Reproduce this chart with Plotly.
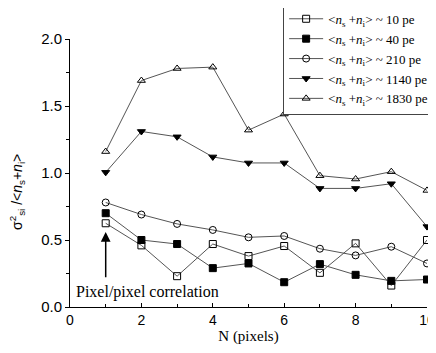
import plotly.graph_objects as go

N = [1, 2, 3, 4, 5, 6, 7, 8, 9, 10]
s10 = [0.625, 0.46, 0.23, 0.47, 0.38, 0.455, 0.255, 0.475, 0.16, 0.50]
s40 = [0.70, 0.50, 0.47, 0.29, 0.325, 0.185, 0.32, 0.24, 0.195, 0.205]
s210 = [0.78, 0.69, 0.62, 0.575, 0.52, 0.53, 0.435, 0.385, 0.45, 0.325]
s1140 = [1.005, 1.31, 1.27, 1.12, 1.075, 1.075, 0.885, 0.885, 0.92, 0.60]
s1830 = [1.16, 1.69, 1.78, 1.79, 1.32, 1.44, 0.98, 0.955, 1.01, 0.87]
labels = ["10", "40", "210", "1140", "1830"]
symbols = ["square-open", "square", "circle-open", "triangle-down", "triangle-up-open"]
series = [s10, s40, s210, s1140, s1830]

SERIF = "Times New Roman, Liberation Serif, serif"
SANS = "Arial, Liberation Sans, sans-serif"

fig = go.Figure()
for lab, sym, ys in zip(labels, symbols, series):
    fig.add_trace(go.Scatter(
        x=N, y=ys, mode="lines+markers",
        name="&lt;<i>n</i><sub>s</sub> +<i>n</i><sub>i</sub>&gt; ~ " + lab + " pe",
        line=dict(color="#555555", width=1),
        marker=dict(symbol=sym, size=7, color="black", line=dict(color="black", width=1)),
        cliponaxis=False,
    ))

fig.add_annotation(x=1, y=0.56, ax=1, ay=0.21, xref="x", yref="y", axref="x", ayref="y",
                   showarrow=True, arrowhead=2, arrowsize=1.3, arrowwidth=1.5, arrowcolor="black", text="")
fig.add_annotation(x=0.1, y=0.11, xref="x", yref="y", xanchor="left", yanchor="middle",
                   showarrow=False, text="Pixel/pixel correlation",
                   font=dict(family=SERIF, size=16, color="black"))
# y-axis title (placed as a rotated annotation to match the reference's lower position)
fig.add_annotation(x=-0.148, y=0.43, xref="paper", yref="paper", xanchor="center", yanchor="middle",
                   showarrow=False, textangle=-90,
                   text="σ<sup>2</sup><sub>si</sub> /&lt;<i>n</i><sub>s</sub>+<i>n</i><sub>i</sub>&gt;",
                   font=dict(family=SANS, size=14, color="black"))

# page body adds an 8px offset; margins compensate so the plot area lands at x 70-427, y 39-307
fig.update_layout(
    width=428, height=337,
    margin=dict(l=62, r=9, t=31, b=38, autoexpand=False),
    plot_bgcolor="white", paper_bgcolor="white",
    font=dict(family=SANS, color="black"),
    showlegend=True,
    legend=dict(x=1.02, y=1.135, xanchor="right", yanchor="top",
                bordercolor="#444444", borderwidth=1, bgcolor="white",
                font=dict(family=SERIF, size=13, color="black"),
                itemwidth=34, tracegroupgap=0),
    xaxis=dict(range=[0, 10], dtick=2, tick0=0, showline=True, linecolor="black", linewidth=1,
               ticks="inside", ticklen=4, tickcolor="black", showgrid=False, zeroline=False,
               minor=dict(dtick=1, ticks="inside", ticklen=3, tickcolor="black"),
               tickfont=dict(family=SANS, size=14),
               title=dict(text="N (pixels)", font=dict(family=SERIF, size=15), standoff=4)),
    yaxis=dict(range=[0, 2.0], dtick=0.5, tick0=0, tickformat=".1f", showline=True, linecolor="black",
               linewidth=1, ticks="outside", ticklen=4, tickcolor="black", showgrid=False, zeroline=False,
               minor=dict(dtick=0.25, ticks="outside", ticklen=3, tickcolor="black"),
               tickfont=dict(family=SANS, size=15)),
)

fig.write_html("out.html")
